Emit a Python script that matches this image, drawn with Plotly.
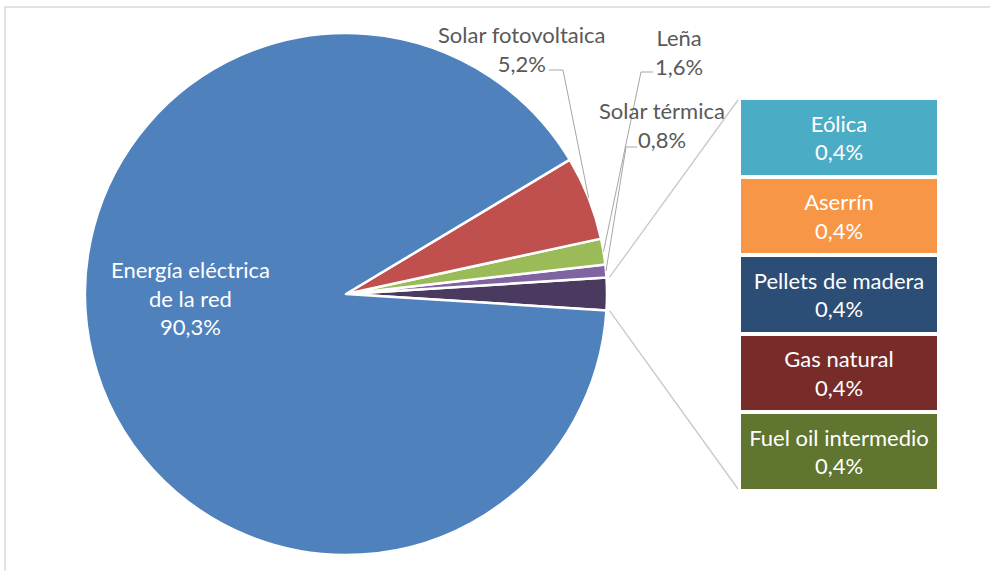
import math
import plotly.graph_objects as go

# ---------------- data ----------------
main_labels = ["Energía eléctrica<br>de la red", "Solar fotovoltaica", "Leña", "Solar térmica"]
main_values = [90.3, 5.2, 1.6, 0.8]
main_text = ["90,3%", "5,2%", "1,6%", "0,8%"]

other_labels = ["Eólica", "Aserrín", "Pellets de madera", "Gas natural", "Fuel oil intermedio"]
other_values = [0.4, 0.4, 0.4, 0.4, 0.4]
other_text = ["0,4%", "0,4%", "0,4%", "0,4%", "0,4%"]

# ---------------- styles ----------------
main_colors = ["#4F81BD", "#C0504D", "#9BBB59", "#8064A2"]
otros_color = "#4B3A60"
other_colors = ["#4BACC6", "#F79646", "#2C4D75", "#772C2A", "#5F7530"]
FONT = "Lato, Liberation Sans, Arial, sans-serif"
FS = 22
LABEL_COLOR = "#595959"

W, H = 990, 571
def px(x):
    return x / W
def py(y):
    return 1 - y / H

# pie order (counterclockwise starting with the "others" slice at 3 o'clock)
otros_total = sum(other_values)
pie_labels = ["Otros"] + main_labels[::-1]
pie_values = [otros_total] + main_values[::-1]
pie_colors = [otros_color] + main_colors[::-1]
total = sum(pie_values)
otros_angle = otros_total / total * 360
rotation = 90 - otros_angle / 2

pie_dom_x = [px(85), px(607)]
pie_dom_y = [py(555), py(33)]
cx = (85 + 607) / 2
cy = (33 + 555) / 2
R = min(607 - 85, 555 - 33) / 2

fig = go.Figure()
fig.add_trace(go.Pie(
    labels=pie_labels, values=pie_values, sort=False, direction="counterclockwise",
    rotation=rotation, textinfo="none", hoverinfo="label+percent",
    marker=dict(colors=pie_colors, line=dict(color="white", width=2.5)),
    domain=dict(x=pie_dom_x, y=pie_dom_y), showlegend=False,
))

# stacked bar of the breakdown (bottom to top)
bar_x0, bar_x1 = 739, 939
bar_y0, bar_y1 = 98, 491
for lab, val, txt, col in list(zip(other_labels, other_values, other_text, other_colors))[::-1]:
    fig.add_trace(go.Bar(
        x=[0], y=[val], width=[1], name=lab,
        marker=dict(color=col, line=dict(color="white", width=4)),
        text=[f"{lab}<br>{txt}"], textposition="inside", insidetextanchor="middle",
        textangle=0, textfont=dict(color="white", size=FS, family=FONT),
        hoverinfo="name+y", showlegend=False, cliponaxis=False,
    ))

fig.update_layout(
    barmode="stack",
    width=W, height=H,
    margin=dict(l=0, r=0, t=0, b=0),
    paper_bgcolor="white", plot_bgcolor="white",
    font=dict(family=FONT, size=FS, color=LABEL_COLOR),
    xaxis=dict(domain=[px(bar_x0), px(bar_x1)], range=[-0.5, 0.5], visible=False, fixedrange=True),
    yaxis=dict(domain=[py(bar_y1), py(bar_y0)], range=[0, otros_total], visible=False, fixedrange=True),
)

# slice angles (clockwise from 12 o'clock, as plotly draws)
starts = []
cur = rotation + otros_angle
for v in pie_values:
    end = cur - v / total * 360
    starts.append((end, cur))
    cur = end

def pt(ang, r):
    t = math.radians(ang)
    return cx + r * math.sin(t), cy - r * math.cos(t)

shapes = []
# chart border
shapes.append(dict(type="rect", xref="paper", yref="paper", x0=px(5), y0=py(7), x1=px(1005), y1=py(590),
                   line=dict(color="#D9D9D9", width=1.5), fillcolor="rgba(0,0,0,0)", layer="below"))

# connector lines pie -> bar
a_top = starts[0][0]
a_bot = starts[0][1]
xt, yt = pt(a_top, R + 3)
xb, yb = pt(a_bot, R + 3)
for (x0, y0, x1, y1) in [(xt, yt, bar_x0 - 1, bar_y0 + 2), (xb, yb, bar_x0 - 1, bar_y1 - 2)]:
    shapes.append(dict(type="line", xref="paper", yref="paper", x0=px(x0), y0=py(y0), x1=px(x1), y1=py(y1),
                       line=dict(color="#C8C8C8", width=1.3)))

# leader lines for outside labels
leaders = {
    "Solar fotovoltaica": [(549, 70), (563, 70)],
    "Leña": [(653, 72), (641, 72)],
    "Solar térmica": [(637, 147), (626, 147)],
}
for i, lab in enumerate(pie_labels):
    if lab in leaders:
        s, e = starts[i]
        mx, my = pt((s + e) / 2, R)
        (x0, y0), (x1, y1) = leaders[lab]
        path = f"M {px(x0)} {py(y0)} L {px(x1)} {py(y1)} L {px(mx)} {py(my)}"
        shapes.append(dict(type="path", xref="paper", yref="paper", path=path,
                           line=dict(color="#A6A6A6", width=1)))
fig.update_layout(shapes=shapes)

# labels
label_pos = {
    "Energía eléctrica<br>de la red": (190, 298, "white"),
    "Solar fotovoltaica": (522, 49, LABEL_COLOR),
    "Leña": (679, 52, LABEL_COLOR),
    "Solar térmica": (662, 125, LABEL_COLOR),
}
annotations = []
for lab, txt in zip(main_labels, main_text):
    x, y, col = label_pos[lab]
    annotations.append(dict(xref="paper", yref="paper", x=px(x), y=py(y), text=f"{lab}<br>{txt}",
                            showarrow=False, xanchor="center", yanchor="middle", align="center",
                            font=dict(color=col, size=FS, family=FONT)))
fig.update_layout(annotations=annotations)

fig.write_html("out.html", config={"displayModeBar": False},
               post_script="document.body.style.margin='0';document.body.style.padding='0';")
